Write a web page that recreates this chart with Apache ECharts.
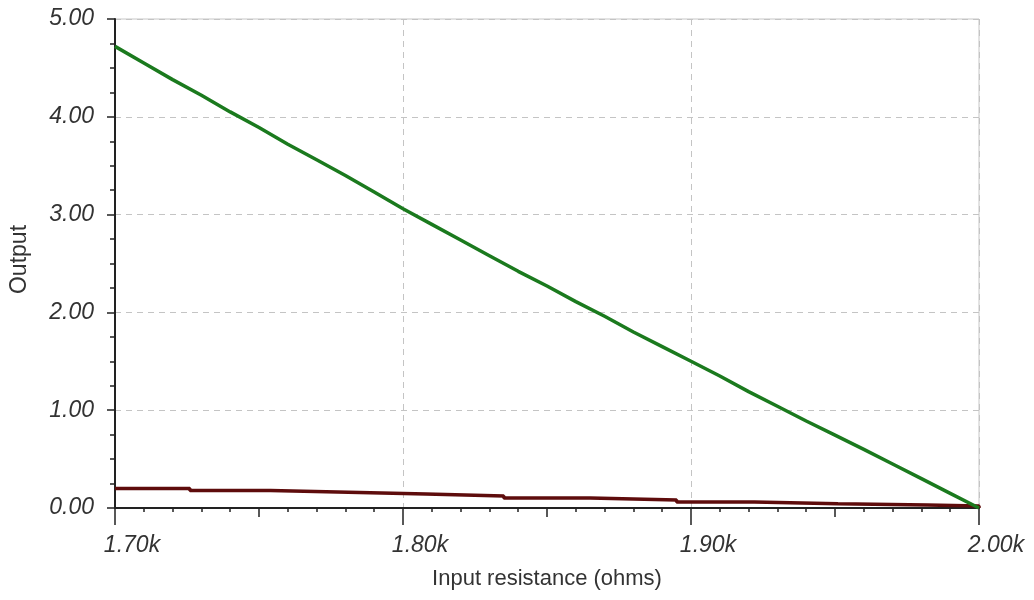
<!DOCTYPE html>
<html>
<head>
<meta charset="utf-8">
<script src="https://cdn.jsdelivr.net/npm/echarts@6/dist/echarts.min.js"></script>
<style>
html,body{margin:0;padding:0;background:#fff;}
#chart{width:1034px;height:600px;}
</style>
</head>
<body>
<div id="chart"></div>
<script>
// Green trace (Output vs input resistance, ohms)
const greenX = [1700,1710,1720,1730,1740,1750,1760,1770,1780,1790,1800,1810,1820,1830,1840,1850,1860,1870,1880,1890,1900,1910,1920,1930,1940,1950,1960,1970,1980,1990,2000];
const greenY = [4.72,4.55,4.38,4.22,4.05,3.89,3.72,3.56,3.40,3.23,3.06,2.90,2.74,2.58,2.42,2.27,2.11,1.96,1.80,1.65,1.50,1.35,1.19,1.04,0.89,0.745,0.60,0.45,0.30,0.15,0.0];
// Dark red trace (stepped): level redY[i] holds from redX[i] to redX[i+1]
const redX = [1700,1726,1754,1781,1808,1835,1865,1895,1922,1951,1982,2000];
const redY = [0.20,0.178,0.162,0.143,0.123,0.102,0.082,0.061,0.044,0.030,0.020,0.0];
// Axis settings
const xMin = 1700, xMax = 2000, xStep = 100;
const yMin = 0, yMax = 5, yStep = 1;
const xName = 'Input resistance (ohms)';
const yName = 'Output';

// explicit staircase path built from the step arrays
const redData = [];
for (let i = 0; i < redX.length - 1; i++) {
  redData.push([redX[i], redY[i]]);
  redData.push([redX[i+1], redY[i]]);
}
redData.push([redX[redX.length-1], redY[redY.length-1]]);

const chart = echarts.init(document.getElementById('chart'), null, {renderer:'canvas'});
const labelFont = {fontFamily:'"Liberation Sans", Arial, sans-serif', fontStyle:'italic', fontSize:23, color:'#333'};
const gridLine = {show:true, lineStyle:{color:'#c4c4c4', type:[6,5], width:1}};
chart.setOption({
  animation:false,
  backgroundColor:'#fff',
  grid:{left:114, right:55, top:19, bottom:92, show:true, borderColor:'#c6c6c6', borderWidth:1, containLabel:false},
  xAxis:[{
    type:'value', min:xMin, max:xMax, interval:xStep, position:'bottom',
    name:xName, nameLocation:'middle', nameGap:60,
    nameTextStyle:{fontFamily:'"Liberation Sans", Arial, sans-serif', fontSize:22, color:'#333'},
    axisLine:{show:true, onZero:false, lineStyle:{color:'#222', width:2}},
    axisTick:{show:true, length:17, lineStyle:{color:'#222', width:1.5}},
    minorTick:{show:true, splitNumber:10, length:4, lineStyle:{color:'#222', width:1.5}},
    axisLabel:Object.assign({margin:26, padding:[0,0,0,34], formatter:v => (v/1000).toFixed(2)+'k'}, labelFont),
    splitLine:gridLine
  },{
    type:'value', min:xMin, max:xMax, interval:50, position:'bottom', gridIndex:0,
    axisLine:{show:false},
    axisTick:{show:true, length:9, lineStyle:{color:'#222', width:1.5}},
    axisLabel:{show:false}, splitLine:{show:false}
  }],
  yAxis:{
    type:'value', min:yMin, max:yMax, interval:yStep,
    name:yName, nameLocation:'middle', nameGap:84, nameRotate:90,
    nameTextStyle:{fontFamily:'"Liberation Sans", Arial, sans-serif', fontSize:23, color:'#333', padding:[0,0,0,8]},
    axisLine:{show:true, onZero:false, lineStyle:{color:'#222', width:2}},
    axisTick:{show:true, length:8, lineStyle:{color:'#222', width:1.5}},
    minorTick:{show:true, splitNumber:4, length:5, lineStyle:{color:'#222', width:1.5}},
    axisLabel:Object.assign({margin:21, formatter:v => v.toFixed(2)}, labelFont),
    splitLine:gridLine
  },
  series:[{
    type:'line', xAxisIndex:0, showSymbol:false, symbol:'none',
    data:redData,
    lineStyle:{color:'#5e0c0c', width:3.5}, z:3
  },{
    type:'line', xAxisIndex:0, showSymbol:false, symbol:'none',
    data:greenX.map((x,i)=>[x, greenY[i]]),
    lineStyle:{color:'#1b7a1e', width:3.5}, z:4
  }]
});
</script>
</body>
</html>
